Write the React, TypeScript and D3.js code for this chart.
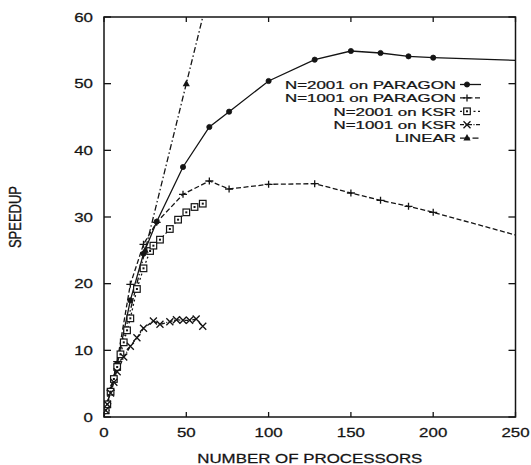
import React from "react";
import * as d3 from "d3";

const xTicks = [0, 50, 100, 150, 200, 250];
const yTicks = [0, 10, 20, 30, 40, 50, 60];

const paragon2001X = [1, 2, 4, 8, 16, 24, 32, 48, 64, 76, 100, 128, 150, 168, 185, 200, 250];
const paragon2001Y = [1, 2, 4, 8, 17.5, 24.5, 29.3, 37.5, 43.5, 45.8, 50.4, 53.6, 54.9, 54.6, 54.1, 53.9, 53.5];

const paragon1001X = [1, 2, 4, 8, 16, 24, 32, 48, 64, 76, 100, 128, 150, 168, 185, 200, 250];
const paragon1001Y = [1, 2, 4, 8.3, 19.9, 25.9, 29.2, 33.4, 35.4, 34.2, 34.9, 35, 33.6, 32.5, 31.6, 30.7, 27.3];

const ksr2001X = [1, 2, 4, 6, 8, 10, 12, 14, 16, 20, 24, 28, 30, 34, 40, 45, 50, 55, 60];
const ksr2001Y = [1, 1.9, 3.8, 5.7, 7.5, 9.4, 11.2, 13, 14.8, 19.2, 22.3, 24.9, 25.7, 26.6, 28.2, 29.6, 30.7, 31.5, 32];

const ksr1001X = [1, 2, 4, 6, 8, 12, 16, 20, 24, 30, 34, 40, 44, 48, 52, 56, 60];
const ksr1001Y = [1, 1.9, 3.6, 5.2, 6.8, 9, 10.6, 11.9, 13.3, 14.4, 13.9, 14.3, 14.6, 14.5, 14.5, 14.7, 13.6];

const linearX = [0, 25, 50, 64];
const linearY = [0, 25, 50, 64];

const seriesNames = ["N=2001 on PARAGON", "N=1001 on PARAGON", "N=2001 on KSR", "N=1001 on KSR", "LINEAR"];

type Marker = "circle" | "plus" | "square" | "cross" | "triangle";

const series: { name: string; xs: number[]; ys: number[]; dash: string; marker: Marker }[] = [
  { name: seriesNames[0], xs: paragon2001X, ys: paragon2001Y, dash: "", marker: "circle" },
  { name: seriesNames[1], xs: paragon1001X, ys: paragon1001Y, dash: "5,2.5", marker: "plus" },
  { name: seriesNames[2], xs: ksr2001X, ys: ksr2001Y, dash: "2,2.5", marker: "square" },
  { name: seriesNames[3], xs: ksr1001X, ys: ksr1001Y, dash: "4,1.5,1,1.5", marker: "cross" },
  { name: seriesNames[4], xs: linearX, ys: linearY, dash: "6,2.5,1.5,2.5", marker: "triangle" },
];

const W = 531;
const H = 465;
const left = 104;
const right = 515.5;
const top = 17;
const bottom = 417;
const INK = "#141414";
const FONT = "'Liberation Sans', Arial, sans-serif";
const SX = 1.3;

const x = d3.scaleLinear().domain([0, 250]).range([left, right]);
const y = d3.scaleLinear().domain([0, 60]).range([bottom, top]);

function SText({ px, py, anchor, children, size = 13, sx = SX }: any) {
  return (
    <g transform={`translate(${px},${py}) scale(${sx},1)`}>
      <text textAnchor={anchor} fontFamily={FONT} fontSize={size} fill={INK} stroke={INK} strokeWidth={0.25}>
        {children}
      </text>
    </g>
  );
}

function MarkerShape({ kind, cx, cy }: { kind: Marker; cx: number; cy: number }) {
  switch (kind) {
    case "circle":
      return <circle cx={cx} cy={cy} r={2.6} fill={INK} stroke={INK} strokeWidth={0.8} />;
    case "plus":
      return (
        <path d={`M${cx - 4},${cy}H${cx + 4}M${cx},${cy - 3.5}V${cy + 3.5}`} stroke={INK} strokeWidth={1.3} fill="none" />
      );
    case "square":
      return (
        <g>
          <rect x={cx - 3.3} y={cy - 3.3} width={6.6} height={6.6} fill="#fff" stroke={INK} strokeWidth={1.2} />
          <rect x={cx - 1} y={cy - 1} width={2} height={2} fill={INK} />
        </g>
      );
    case "cross":
      return (
        <path d={`M${cx - 3.5},${cy - 3.5}L${cx + 3.5},${cy + 3.5}M${cx - 3.5},${cy + 3.5}L${cx + 3.5},${cy - 3.5}`} stroke={INK} strokeWidth={1.3} fill="none" />
      );
    case "triangle":
      return <path d={`M${cx},${cy - 4}L${cx + 3.6},${cy + 2.5}L${cx - 3.6},${cy + 2.5}Z`} fill={INK} />;
  }
}

export default function App() {
  const line = d3
    .line<[number, number]>()
    .x((d) => x(d[0]))
    .y((d) => y(d[1]));

  const legendTextRight = 456;
  const legendStep = 13.4;
  const legendMidBase = 115.5;
  const legendFont = 11.8;
  const legendSX = (SX * 13) / legendFont;

  return (
    <svg width={W} height={H} style={{ position: "absolute", left: 0, top: 0, background: "#fff" }}>
      <defs>
        <clipPath id="plotClip">
          <rect x={left} y={top} width={right - left} height={bottom - top} />
        </clipPath>
      </defs>
      <rect width={W} height={H} fill="#fff" />

      {/* series */}
      <g clipPath="url(#plotClip)">
        {series.map((s) => {
          const pts: [number, number][] = s.xs.map((v, i) => [v, s.ys[i]]);
          return (
            <path key={s.name} d={line(pts) || ""} fill="none" stroke={INK} strokeWidth={1.3} strokeDasharray={s.dash || undefined} />
          );
        })}
      </g>
      <g clipPath="url(#plotClip)">
        {series.map((s) =>
          s.xs.map((v, i) =>
            v > 0 && v < 250 && s.ys[i] < 60 ? <MarkerShape key={s.name + i} kind={s.marker} cx={x(v)} cy={y(s.ys[i])} /> : null
          )
        )}
      </g>

      {/* frame */}
      <rect x={left} y={top} width={right - left} height={bottom - top} fill="none" stroke={INK} strokeWidth={1.5} />

      {/* ticks */}
      {xTicks.map((t) => (
        <g key={"xt" + t}>
          <line x1={x(t)} x2={x(t)} y1={bottom} y2={bottom - 5} stroke={INK} strokeWidth={1.3} />
          <line x1={x(t)} x2={x(t)} y1={top} y2={top + 5} stroke={INK} strokeWidth={1.3} />
          <SText px={x(t)} py={437} anchor="middle">
            {t}
          </SText>
        </g>
      ))}
      {yTicks.map((t) => (
        <g key={"yt" + t}>
          <line x1={left} x2={left + 7} y1={y(t)} y2={y(t)} stroke={INK} strokeWidth={1.3} />
          <line x1={right} x2={right - 7} y1={y(t)} y2={y(t)} stroke={INK} strokeWidth={1.3} />
          <SText px={93} py={y(t) + 4.6} anchor="end">
            {t}
          </SText>
        </g>
      ))}

      {/* axis titles */}
      <SText px={(left + right) / 2} py={463} anchor="middle">
        NUMBER OF PROCESSORS
      </SText>
      <g transform={`translate(21,${(top + bottom) / 2}) scale(${SX},1) rotate(-90)`}>
        <text textAnchor="middle" fontFamily={FONT} fontSize={13} fill={INK} stroke={INK} strokeWidth={0.25}>
          SPEEDUP
        </text>
      </g>

      {/* legend */}
      {series.map((s, i) => {
        const by = legendMidBase + (i - 2) * legendStep;
        const cy = by - 4.2;
        return (
          <g key={"lg" + s.name}>
            <SText px={legendTextRight} py={by} anchor="end" size={legendFont} sx={legendSX}>
              {s.name}
            </SText>
            <line x1={460} x2={481} y1={cy} y2={cy} stroke={INK} strokeWidth={1.3} strokeDasharray={s.dash || undefined} />
            <MarkerShape kind={s.marker} cx={467} cy={cy} />
          </g>
        );
      })}
    </svg>
  );
}
